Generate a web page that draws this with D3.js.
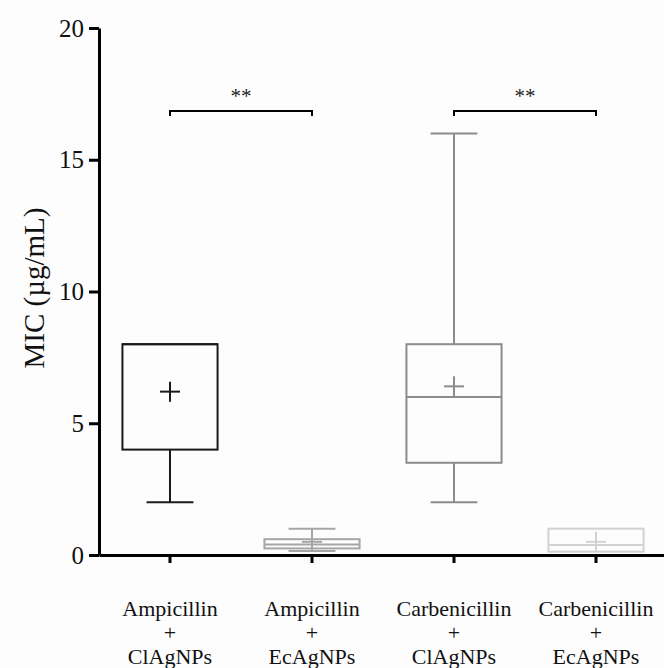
<!DOCTYPE html>
<html>
<head>
<meta charset="utf-8">
<script src="https://cdn.jsdelivr.net/npm/d3@7"></script>
<style>
  body { margin: 0; background: #fdfdfd; }
  svg { display: block; }
</style>
</head>
<body>
<div id="chart"></div>
<script>
// categories, split into label lines
var categories = ["Amp_Cl", "Amp_Ec", "Carb_Cl", "Carb_Ec"];
var categoryLines = [
  ["Ampicillin", "+", "ClAgNPs"],
  ["Ampicillin", "+", "EcAgNPs"],
  ["Carbenicillin", "+", "ClAgNPs"],
  ["Carbenicillin", "+", "EcAgNPs"]
];

// box plot statistics (MIC, µg/mL)
var minValues    = [2,   0.15, 2,   0.125];
var q1Values     = [4,   0.25, 3.5, 0.125];
var medianValues = [8,   0.4,  6,   0.375];
var q3Values     = [8,   0.6,  8,   1];
var maxValues    = [8,   1,    16,  1];
var meanValues   = [6.2, 0.5,  6.4, 0.5];
var boxColors    = ["#1a1a1a", "#a6a6a6", "#8c8c8c", "#d2d2d2"];

var yTicks = [0, 5, 10, 15, 20];

// significance brackets
var sigPairs  = [[0, 1], [2, 3]];
var sigLabels = ["**", "**"];
var sigLevel  = 16.85;

var width = 664, height = 668;
var axis_left = 99, axis_bottom = 555, axis_top = 28;
var font = "'Liberation Serif', 'Times New Roman', serif";

var svg = d3.select("#chart").append("svg")
    .attr("width", width)
    .attr("height", height);

var x = d3.scaleBand()
    .domain(categories)
    .range([axis_left, axis_left + 4 * 142])
    .padding(0);

var y = d3.scaleLinear()
    .domain([0, 20])
    .range([axis_bottom, axis_top]);

var step = x.step(),
    box_w = 0.67 * step,
    cap_w = 0.33 * step,
    plus_r = 10;

function cx(i) { return x(categories[i]) + x.bandwidth() / 2; }

// y axis
var gy = svg.append("g")
    .attr("transform", "translate(" + axis_left + ",0)")
    .call(d3.axisLeft(y).tickValues(yTicks).tickSize(10).tickSizeOuter(0).tickPadding(5));
gy.select(".domain").attr("stroke", "#000").attr("stroke-width", 3);
gy.selectAll(".tick line").attr("stroke", "#000").attr("stroke-width", 3);
gy.selectAll(".tick text")
    .attr("font-family", font)
    .attr("font-size", 25)
    .attr("fill", "#111");

// x axis
var gx = svg.append("g")
    .attr("transform", "translate(0," + axis_bottom + ")")
    .call(d3.axisBottom(x).tickSize(8).tickSizeOuter(0).tickFormat(""));
gx.select(".domain").attr("stroke", "#000").attr("stroke-width", 3);
gx.selectAll(".tick line").attr("stroke", "#000").attr("stroke-width", 3);

// category labels
categoryLines.forEach(function(lines, i) {
  svg.append("text")
      .attr("x", cx(i))
      .attr("y", 616)
      .attr("text-anchor", "middle")
      .attr("font-family", font)
      .attr("font-size", 22)
      .attr("fill", "#111")
    .selectAll("tspan")
    .data(lines)
    .join("tspan")
      .attr("x", cx(i))
      .attr("dy", function(d, j) { return j === 0 ? 0 : 24; })
      .text(function(d) { return d; });
});

// axis title
svg.append("text")
    .attr("transform", "translate(44,288) rotate(-90)")
    .attr("text-anchor", "middle")
    .attr("font-family", font)
    .attr("font-size", 29)
    .attr("fill", "#111")
    .text("MIC (µg/mL)");

// boxes
categories.forEach(function(c, i) {
  var g = svg.append("g")
      .attr("stroke", boxColors[i])
      .attr("stroke-width", 2)
      .attr("fill", "none");
  var mx = cx(i);

  // whiskers
  g.append("line")
      .attr("x1", mx).attr("x2", mx)
      .attr("y1", y(maxValues[i])).attr("y2", y(q3Values[i]));
  g.append("line")
      .attr("x1", mx).attr("x2", mx)
      .attr("y1", y(q1Values[i])).attr("y2", y(minValues[i]));
  if (maxValues[i] > q3Values[i]) {
    g.append("line")
        .attr("x1", mx - cap_w / 2).attr("x2", mx + cap_w / 2)
        .attr("y1", y(maxValues[i])).attr("y2", y(maxValues[i]));
  }
  if (minValues[i] < q1Values[i]) {
    g.append("line")
        .attr("x1", mx - cap_w / 2).attr("x2", mx + cap_w / 2)
        .attr("y1", y(minValues[i])).attr("y2", y(minValues[i]));
  }

  // box
  g.append("rect")
      .attr("x", mx - box_w / 2)
      .attr("y", y(q3Values[i]))
      .attr("width", box_w)
      .attr("height", y(q1Values[i]) - y(q3Values[i]));

  // median
  g.append("line")
      .attr("x1", mx - box_w / 2).attr("x2", mx + box_w / 2)
      .attr("y1", y(medianValues[i])).attr("y2", y(medianValues[i]));

  // mean marker
  g.append("line")
      .attr("x1", mx - plus_r).attr("x2", mx + plus_r)
      .attr("y1", y(meanValues[i])).attr("y2", y(meanValues[i]));
  g.append("line")
      .attr("x1", mx).attr("x2", mx)
      .attr("y1", y(meanValues[i]) - plus_r).attr("y2", y(meanValues[i]) + plus_r);
});

// significance brackets
sigPairs.forEach(function(p, k) {
  var x1 = cx(p[0]), x2 = cx(p[1]), yy = y(sigLevel);
  svg.append("path")
      .attr("d", "M" + x1 + "," + (yy + 5) + "V" + yy + "H" + x2 + "V" + (yy + 5))
      .attr("fill", "none")
      .attr("stroke", "#000")
      .attr("stroke-width", 2);
  svg.append("text")
      .attr("x", (x1 + x2) / 2)
      .attr("y", yy - 8)
      .attr("text-anchor", "middle")
      .attr("font-family", font)
      .attr("font-size", 21)
      .attr("fill", "#222")
      .text(sigLabels[k]);
});
</script>
</body>
</html>
